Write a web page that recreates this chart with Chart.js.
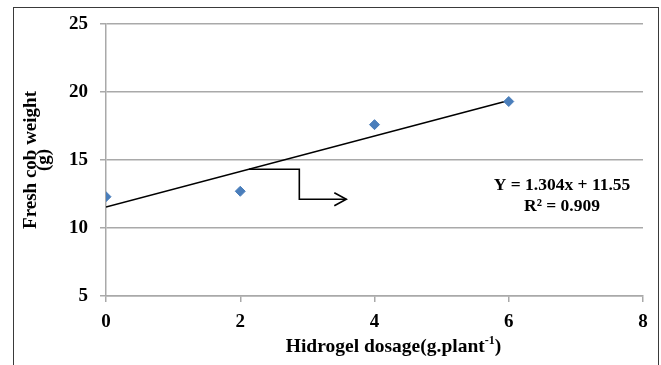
<!DOCTYPE html>
<html>
<head>
<meta charset="utf-8">
<script src="https://cdn.jsdelivr.net/npm/chart.js@4.4.1/dist/chart.umd.min.js"></script>
<style>
  html, body { margin: 0; padding: 0; background: #fff; }
  #wrap { position: relative; width: 661px; height: 365px; overflow: hidden; }
  #frame { position: absolute; left: 13px; top: 7px; width: 646px; height: 400px; border: 1px solid #3a3a3a; box-sizing: border-box; }
  #myChart { position: absolute; left: 0; top: 0; }
</style>
</head>
<body>
<div id="wrap">
  <div id="frame"></div>
  <canvas id="myChart" width="661" height="365"></canvas>
</div>
<script>
// data
const dosage = [0, 2, 4, 6];
const cobWeight = [12.3, 12.7, 17.6, 19.3];
const trendX = [0, 6];
const trendY = [11.55, 19.37];
const arrowX = [2.13, 2.88, 2.88, 3.58];
const arrowY = [14.32, 14.32, 12.11, 12.11];
const xTicks = [0, 2, 4, 6, 8];
const yTicks = [5, 10, 15, 20, 25];
const equationLines = ['Y = 1.304x + 11.55', 'R² = 0.909'];
const yTitle = ['Fresh cob weight', '(g)'];
const xTitle = 'Hidrogel dosage(g.plant';
const xTitleSup = '-1';
const xTitleEnd = ')';

const serif = '"Liberation Serif", "Times New Roman", serif';
const gridColor = '#a9a9a9';

const toPoints = (xs, ys) => xs.map((x, i) => ({x, y: ys[i]}));

// open arrow head at the end of the arrow line
const arrowHead = {
  id: 'arrowHead',
  afterDatasetsDraw(chart) {
    const {ctx, scales: {x, y}} = chart;
    const n = arrowX.length;
    const tipX = x.getPixelForValue(arrowX[n - 1]);
    const tipY = y.getPixelForValue(arrowY[n - 1]);
    ctx.save();
    ctx.strokeStyle = '#000';
    ctx.lineWidth = 1.6;
    ctx.beginPath();
    ctx.moveTo(tipX - 12, tipY - 6.5);
    ctx.lineTo(tipX, tipY);
    ctx.lineTo(tipX - 12, tipY + 6.5);
    ctx.stroke();
    ctx.restore();
  }
};

// equation label, axis titles (x title has a superscript)
const labels = {
  id: 'labels',
  afterDraw(chart) {
    const {ctx, chartArea} = chart;
    ctx.save();
    ctx.fillStyle = '#000';
    ctx.textBaseline = 'middle';
    ctx.textAlign = 'center';
    ctx.font = 'bold 17.5px ' + serif;
    equationLines.forEach((line, i) => {
      ctx.fillText(line, chartArea.right - 81, 185 + i * 21);
    });

    // y title, rotated
    ctx.save();
    ctx.translate(0, (chartArea.top + chartArea.bottom) / 2);
    ctx.rotate(-Math.PI / 2);
    ctx.font = 'bold 19px ' + serif;
    yTitle.forEach((line, i) => {
      ctx.fillText(line, 0, 31 + i * 13.5);
    });
    ctx.restore();

    const mainFont = 'bold 19.5px ' + serif;
    const supFont = 'bold 12px ' + serif;
    ctx.font = mainFont;
    const w1 = ctx.measureText(xTitle).width;
    const w3 = ctx.measureText(xTitleEnd).width;
    ctx.font = supFont;
    const w2 = ctx.measureText(xTitleSup).width;
    const cx = (chartArea.left + chartArea.right) / 2 + 19;
    let left = cx - (w1 + w2 + w3) / 2;
    const cy = 347;
    ctx.textAlign = 'left';
    ctx.font = mainFont;
    ctx.fillText(xTitle, left, cy);
    ctx.font = supFont;
    ctx.fillText(xTitleSup, left + w1, cy - 6);
    ctx.font = mainFont;
    ctx.fillText(xTitleEnd, left + w1 + w2, cy);
    ctx.restore();
  }
};

const config = {
  type: 'scatter',
  data: {
    datasets: [
      {
        data: toPoints(dosage, cobWeight),
        pointStyle: 'rectRot',
        pointRadius: 5,
        backgroundColor: '#4a7ebb',
        borderColor: '#4a7ebb',
        borderWidth: 1
      },
      {
        data: toPoints(trendX, trendY),
        showLine: true,
        pointRadius: 0,
        borderColor: '#000',
        borderWidth: 1.5
      },
      {
        data: toPoints(arrowX, arrowY),
        showLine: true,
        pointRadius: 0,
        borderColor: '#000',
        borderWidth: 1.6
      }
    ]
  },
  options: {
    responsive: false,
    animation: false,
    layout: { padding: { top: 24, right: 18, left: 0, bottom: 0 } },
    plugins: { legend: { display: false }, tooltip: { enabled: false } },
    scales: {
      x: {
        type: 'linear',
        min: 0,
        max: 8,
        afterBuildTicks: scale => { scale.ticks = xTicks.map(v => ({value: v})); },
        afterFit: scale => { scale.height = 69; },
        grid: { drawOnChartArea: false, color: gridColor, tickLength: 6, lineWidth: 1.5 },
        border: { color: gridColor, width: 1.5 },
        ticks: { color: '#000', padding: 9, font: { family: serif, size: 19, weight: 'bold' } }
      },
      y: {
        min: 5,
        max: 25,
        afterBuildTicks: scale => { scale.ticks = yTicks.map(v => ({value: v})); },
        afterFit: scale => { scale.width = 106; },
        grid: { color: gridColor, tickLength: 6, lineWidth: 1.5 },
        border: { color: gridColor, width: 1.5 },
        ticks: { color: '#000', padding: 12, font: { family: serif, size: 19, weight: 'bold' } }
      }
    }
  },
  plugins: [arrowHead, labels]
};

new Chart(document.getElementById('myChart').getContext('2d'), config);
</script>
</body>
</html>
